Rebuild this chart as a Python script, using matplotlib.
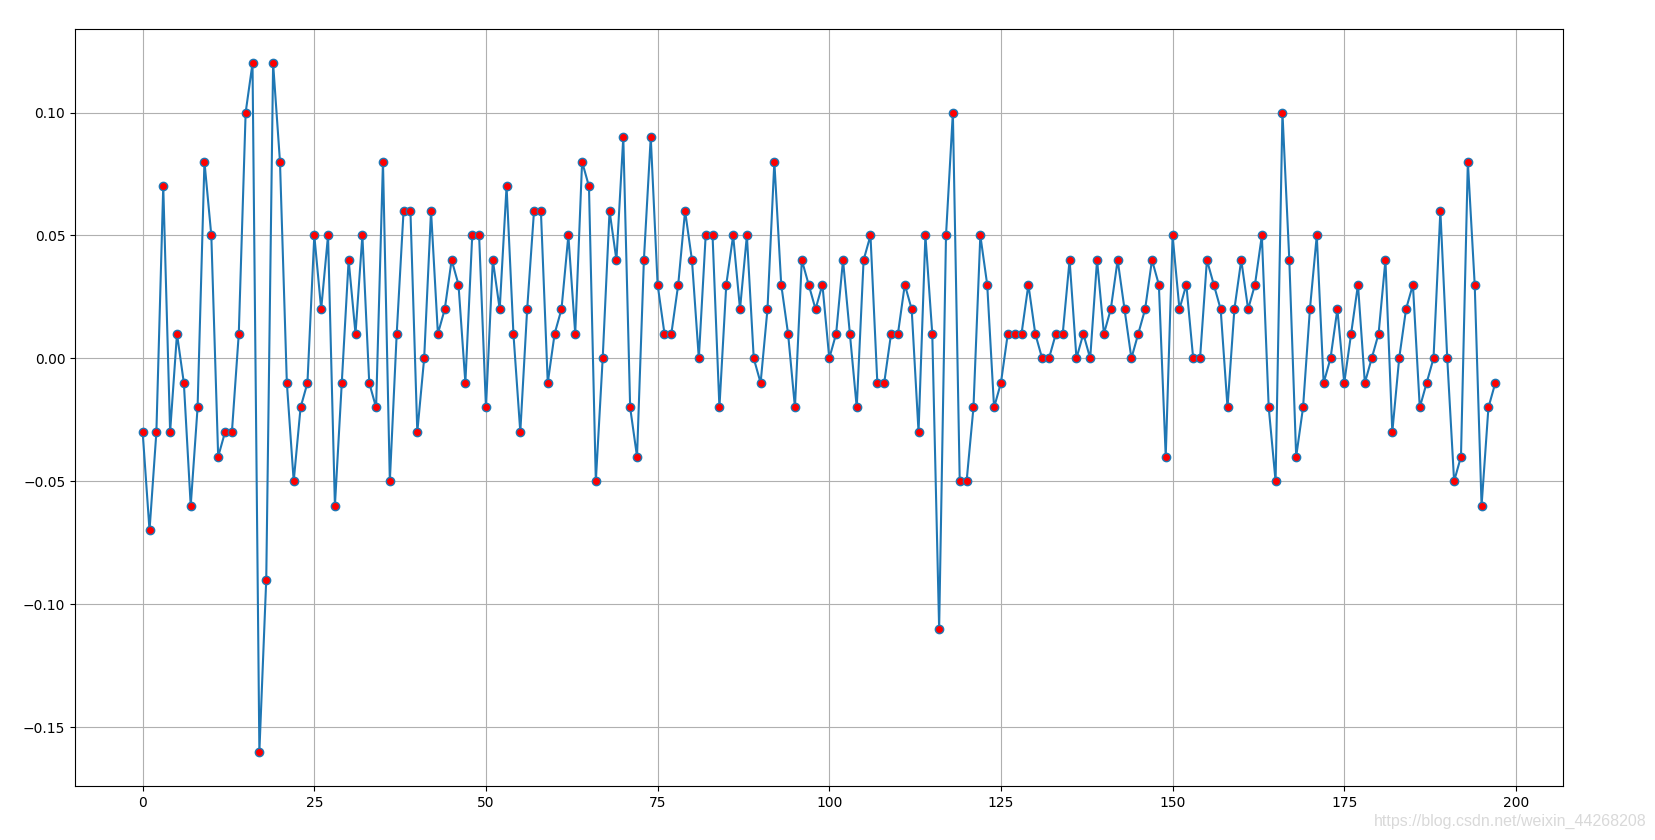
import numpy as np
import matplotlib
matplotlib.use('Agg')
import matplotlib.pyplot as plt

# series values (index 0..197)
values = [
    -0.03, -0.07, -0.03, 0.07, -0.03, 0.01, -0.01, -0.06, -0.02, 0.08,
    0.05, -0.04, -0.03, -0.03, 0.01, 0.10, 0.12, -0.16, -0.09, 0.12,
    0.08, -0.01, -0.05, -0.02, -0.01, 0.05, 0.02, 0.05, -0.06, -0.01,
    0.04, 0.01, 0.05, -0.01, -0.02, 0.08, -0.05, 0.01, 0.06, 0.06,
    -0.03, 0.00, 0.06, 0.01, 0.02, 0.04, 0.03, -0.01, 0.05, 0.05,
    -0.02, 0.04, 0.02, 0.07, 0.01, -0.03, 0.02, 0.06, 0.06, -0.01,
    0.01, 0.02, 0.05, 0.01, 0.08, 0.07, -0.05, 0.00, 0.06, 0.04,
    0.09, -0.02, -0.04, 0.04, 0.09, 0.03, 0.01, 0.01, 0.03, 0.06,
    0.04, 0.00, 0.05, 0.05, -0.02, 0.03, 0.05, 0.02, 0.05, 0.00,
    -0.01, 0.02, 0.08, 0.03, 0.01, -0.02, 0.04, 0.03, 0.02, 0.03,
    0.00, 0.01, 0.04, 0.01, -0.02, 0.04, 0.05, -0.01, -0.01, 0.01,
    0.01, 0.03, 0.02, -0.03, 0.05, 0.01, -0.11, 0.05, 0.10, -0.05,
    -0.05, -0.02, 0.05, 0.03, -0.02, -0.01, 0.01, 0.01, 0.01, 0.03,
    0.01, 0.00, 0.00, 0.01, 0.01, 0.04, 0.00, 0.01, 0.00, 0.04,
    0.01, 0.02, 0.04, 0.02, 0.00, 0.01, 0.02, 0.04, 0.03, -0.04,
    0.05, 0.02, 0.03, 0.00, 0.00, 0.04, 0.03, 0.02, -0.02, 0.02,
    0.04, 0.02, 0.03, 0.05, -0.02, -0.05, 0.10, 0.04, -0.04, -0.02,
    0.02, 0.05, -0.01, 0.00, 0.02, -0.01, 0.01, 0.03, -0.01, 0.00,
    0.01, 0.04, -0.03, 0.00, 0.02, 0.03, -0.02, -0.01, 0.00, 0.06,
    0.00, -0.05, -0.04, 0.08, 0.03, -0.06, -0.02, -0.01,
]
watermark = 'https://blog.csdn.net/weixin_44268208'

x = np.arange(len(values))

fig = plt.figure(figsize=(16.56, 8.4), dpi=100)
ax = fig.add_axes([0.0453, 0.0643, 0.8985, 0.9012])

ax.plot(x, values, color='tab:blue', marker='o', markerfacecolor='red')
ax.grid(True)

fig.text(0.9945, 0.022, watermark, ha='right', va='center', fontsize=11.5,
         color='#d9d9d9', family='Liberation Sans')

fig.savefig('out.png', dpi=100)
